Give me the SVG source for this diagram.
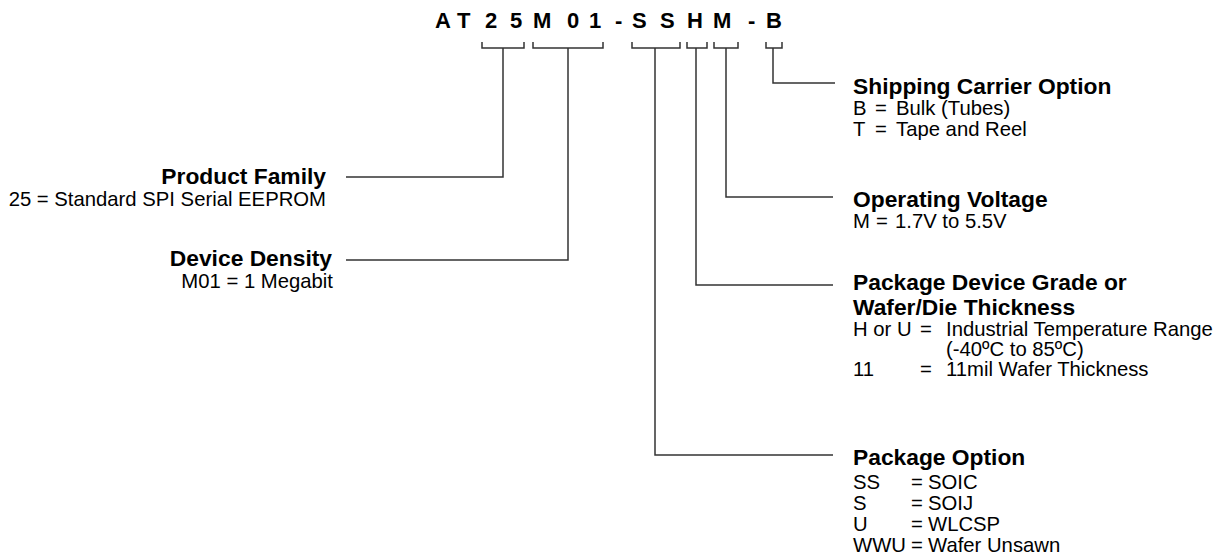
<svg xmlns="http://www.w3.org/2000/svg" width="1226" height="560" viewBox="0 0 1226 560">
<style>
text{font-family:"Liberation Sans",Arial,Helvetica,sans-serif;fill:#000}
.code{font-size:22px;font-weight:bold}
.h{font-size:22.8px;font-weight:bold}
.t{font-size:20.3px}
.r{text-anchor:end}
.ln{fill:none;stroke:#333;stroke-width:1.5}
</style>
<rect width="1226" height="560" fill="#fff"/>
<g id="part-number">
<text class="code" x="435 457 485 510 533 567 589 615 632 660 687 713 748 766" y="28">AT25M01-SSHM-B</text>
</g>
<g id="connectors">
<path class="ln" d="M482 42V48H524V42"/>
<path class="ln" d="M533 42V48H603V42"/>
<path class="ln" d="M632 42V48H680V42"/>
<path class="ln" d="M687 42V48H707V42"/>
<path class="ln" d="M714 42V48H738V42"/>
<path class="ln" d="M766 42V48H782V42"/>
<path class="ln" d="M346 177H503V48"/>
<path class="ln" d="M346 260H568V48"/>
<path class="ln" d="M835 83H773V48"/>
<path class="ln" d="M833 197H726V48"/>
<path class="ln" d="M833 285H696V48"/>
<path class="ln" d="M833 455H655V48"/>
</g>
<g id="product-family">
<text class="h r" x="326" y="184">Product Family</text>
<text class="t r" x="326" y="206">25 = Standard SPI Serial EEPROM</text>
</g>
<g id="device-density">
<text class="h r" x="332" y="266">Device Density</text>
<text class="t r" x="333" y="288">M01 = 1 Megabit</text>
</g>
<g id="shipping-carrier">
<text class="h" x="853" y="94">Shipping Carrier Option</text>
<text class="t" y="115"><tspan x="853">B</tspan><tspan x="875">=</tspan><tspan x="896">Bulk (Tubes)</tspan></text>
<text class="t" y="136"><tspan x="853">T</tspan><tspan x="875">=</tspan><tspan x="896">Tape and Reel</tspan></text>
</g>
<g id="operating-voltage">
<text class="h" x="853" y="207">Operating Voltage</text>
<text class="t" y="228"><tspan x="853">M</tspan><tspan x="876">=</tspan><tspan x="895">1.7V to 5.5V</tspan></text>
</g>
<g id="package-grade">
<text class="h" x="853" y="290">Package Device Grade or</text>
<text class="h" x="853" y="315">Wafer/Die Thickness</text>
<text class="t" y="336"><tspan x="853">H or U</tspan><tspan x="920">=</tspan><tspan x="946">Industrial Temperature Range</tspan></text>
<text class="t" x="946" y="356">(-40ºC to 85ºC)</text>
<text class="t" y="376"><tspan x="853">11</tspan><tspan x="920">=</tspan><tspan x="946">11mil Wafer Thickness</tspan></text>
</g>
<g id="package-option">
<text class="h" x="853" y="465">Package Option</text>
<text class="t" y="489"><tspan x="853">SS</tspan><tspan x="911">=</tspan><tspan x="928">SOIC</tspan></text>
<text class="t" y="510"><tspan x="853">S</tspan><tspan x="911">=</tspan><tspan x="928">SOIJ</tspan></text>
<text class="t" y="531"><tspan x="853">U</tspan><tspan x="911">=</tspan><tspan x="928">WLCSP</tspan></text>
<text class="t" y="552"><tspan x="853">WWU</tspan><tspan x="911">=</tspan><tspan x="928">Wafer Unsawn</tspan></text>
</g>
</svg>
